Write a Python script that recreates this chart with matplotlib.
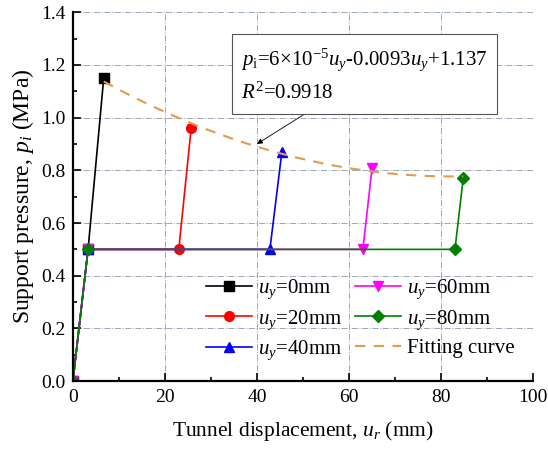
import matplotlib
matplotlib.use('Agg')
import matplotlib.pyplot as plt
import numpy as np
from matplotlib.ticker import MultipleLocator, FormatStrFormatter

plt.rcParams['font.family'] = ['Liberation Serif', 'DejaVu Serif']
plt.rcParams['mathtext.fontset'] = 'custom'
plt.rcParams['mathtext.rm'] = 'Liberation Serif'
plt.rcParams['mathtext.it'] = 'Liberation Serif:italic'

# data
labels = ['0', '20', '40', '60', '80']
ur_series = [
    [0, 3.3, 6.7],
    [0, 3.3, 23.0, 25.7],
    [0, 3.3, 42.8, 45.4],
    [0, 3.3, 63.0, 65.0],
    [0, 3.3, 83.0, 84.8],
]
p_series = [
    [0, 0.5, 1.15],
    [0, 0.5, 0.5, 0.96],
    [0, 0.5, 0.5, 0.87],
    [0, 0.5, 0.5, 0.81],
    [0, 0.5, 0.5, 0.77],
]
colors = ['black', 'red', 'blue', 'magenta', 'green']
markers = ['s', 'o', '^', 'v', 'D']

# fitting curve p = 6e-5 uy^2 - 0.0093 uy + 1.137, drawn between the peaks
fit_a, fit_b, fit_c = 6e-5, -0.0093, 1.137
fit_x0, fit_x1 = 6.7, 84.8

fig = plt.figure(figsize=(5.48, 4.5), dpi=100)
ax = fig.add_axes([0.133, 0.153, 0.840, 0.820])

handles = []
for i in range(5):
    h, = ax.plot(ur_series[i], p_series[i], color=colors[i], marker=markers[i],
                 markersize=7 if markers[i] != 'D' else 6.5, lw=1.2,
                 label=r'$u_y$=' + labels[i] + 'mm')
    handles.append(h)

uy = np.linspace(0, 80, 60)
fx = fit_x0 + uy * (fit_x1 - fit_x0) / 80
fp = fit_a * uy**2 + fit_b * uy + fit_c
hf, = ax.plot(fx, fp, '--', color='#E69A4C', lw=1.5, dashes=(5, 4), label='Fitting curve')
handles.append(hf)

ax.set_xlim(0, 100)
ax.set_ylim(0, 1.4)
ax.xaxis.set_major_locator(MultipleLocator(20))
ax.xaxis.set_minor_locator(MultipleLocator(10))
ax.yaxis.set_major_locator(MultipleLocator(0.2))
ax.yaxis.set_minor_locator(MultipleLocator(0.1))
ax.yaxis.set_major_formatter(FormatStrFormatter('%.1f'))
ax.tick_params(which='both', direction='in', labelsize=14, width=1.2)
ax.tick_params(which='major', length=6)
ax.tick_params(which='minor', length=3)
ax.tick_params(axis='x', pad=6)
ax.tick_params(axis='y', pad=5)
ax.grid(True, which='major', color='#9aa8b8', ls='-.', lw=0.7)
ax.set_axisbelow(True)
for s in ['top', 'right']:
    ax.spines[s].set_visible(False)
for s in ['left', 'bottom']:
    ax.spines[s].set_linewidth(1.6)

ax.set_xlabel(r'Tunnel displacement, $u_r$ (mm)', fontsize=15.5, labelpad=9)
ax.set_ylabel(r'Support pressure, $p_i$ (MPa)', fontsize=17, labelpad=4)

ax.legend(handles=handles, ncol=2, loc='lower right', bbox_to_anchor=(1.0, 0.0),
          frameon=False, fontsize=15, handlelength=2.2, columnspacing=0.6,
          handletextpad=0.3, labelspacing=0.35)

ax.annotate(r'$p_{\rm i}$=6×10$^{-5}$$u_y$-0.0093$u_y$+1.137' + '\n' + r'$R^2$=0.9918',
            xy=(40, 0.90), xytext=(36.6, 1.16), fontsize=15, va='center',
            linespacing=1.6,
            bbox=dict(boxstyle='square,pad=0.45', fc='white', ec='#555555', lw=0.8),
            arrowprops=dict(arrowstyle='-|>', color='black', lw=0.6,
                            shrinkA=0, shrinkB=0, mutation_scale=8,
                            relpos=(0.32, 0.0)))

fig.savefig('out.png', dpi=100)
